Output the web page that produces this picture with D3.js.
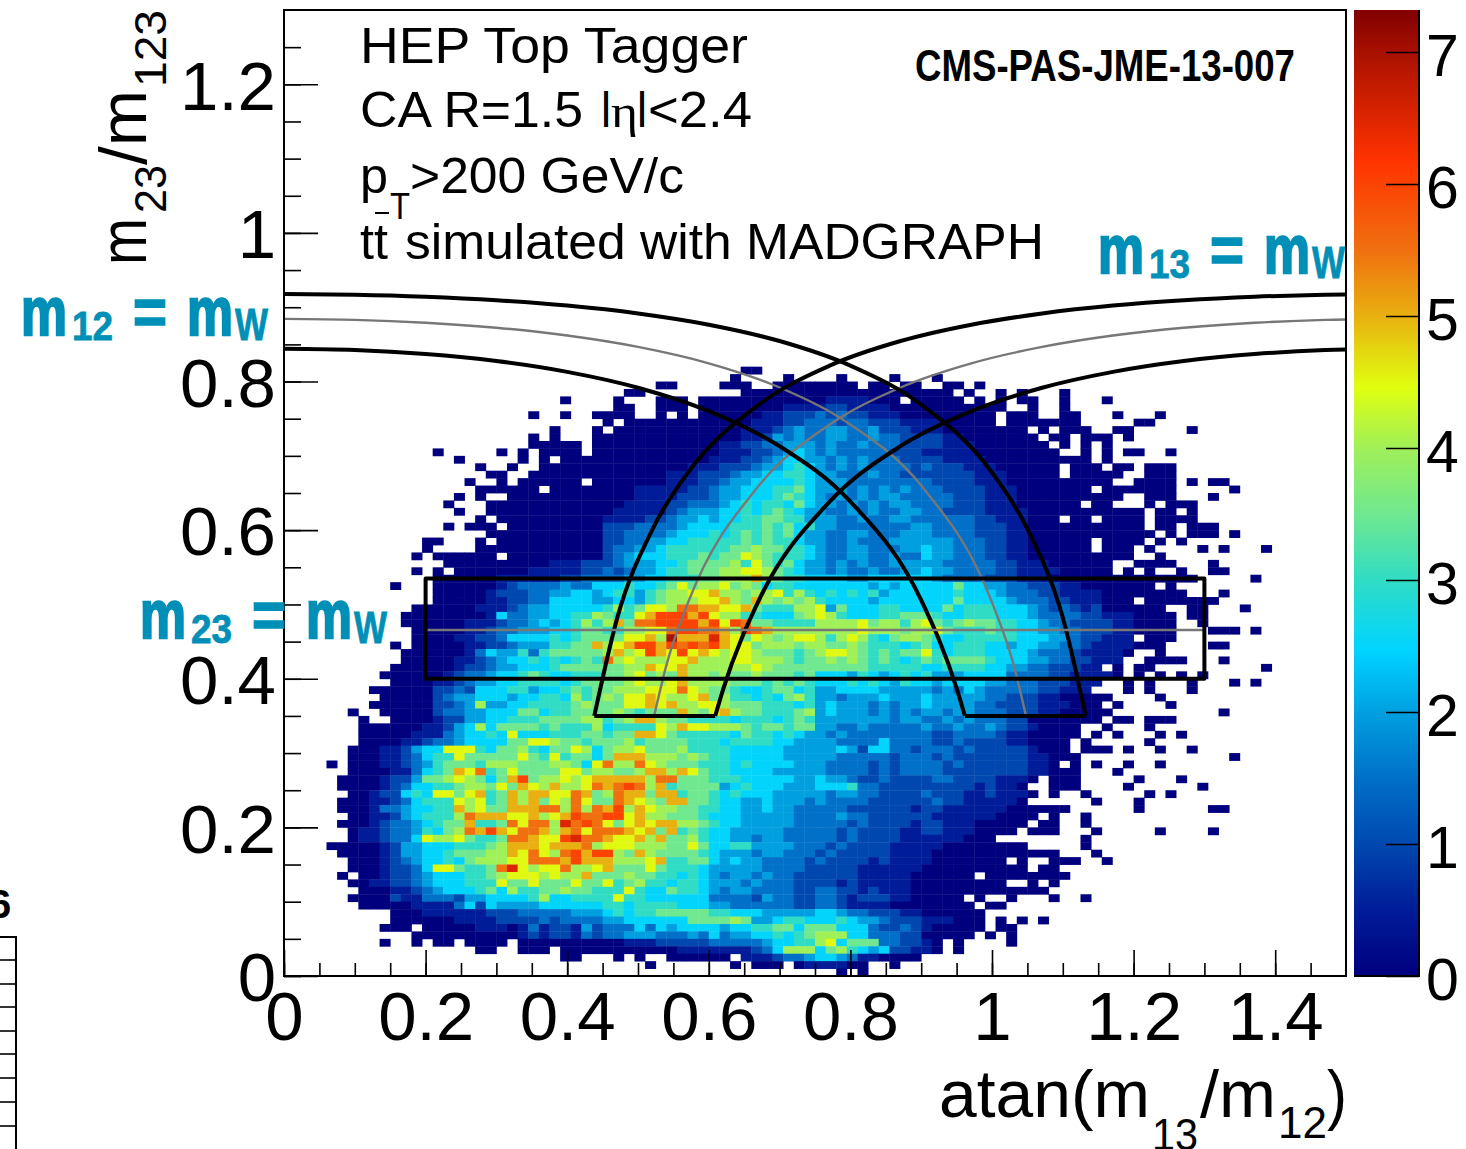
<!DOCTYPE html>
<html><head><meta charset="utf-8">
<script src="https://cdn.jsdelivr.net/npm/d3@7"></script>
<style>body{margin:0;background:#fff}svg{display:block}text{font-family:"Liberation Sans",Arial,sans-serif}</style>
</head><body><svg id="c" width="1466" height="1149"></svg>
<script>
// x bin width and y bin width of the histogram
const binWidthX = 0.015, binWidthY = 0.01;
// Each row: "row> startBin:values ...". One character per bin, value = parseInt(char,36)/2.
const heatRows = [
"81> 43:00",
"80> 42:0 47:0 52:0 57:0 61:0",
"79> 35:00 41:000 46:000 49:00000 55:00 58:00 62:00 65:0",
"78> 32:00 43:0000000 50:0000000000 60:000 64:0 67:0 69:0 73:0",
"77> 26:0 31:0 35:000 39:0000000000 49:001111000 59:00000 65:0 67:0 69:00 73:0 77:0",
"76> 31:00 35:000 39:0000000011 49:1122111100 59:00000000 67:0 70:0 73:0",
"75> 23:0 26:0 29:0000 35:0 37:0 39:0000001122 49:2323221110 59:00000000 68:00 70:0 73:00 78:0 82:0",
"74> 30:0 32:00000000 40:0000111223 50:3323322211 60:1100000 68:0000000 80:00",
"73> 25:0 29:0 31:000000000 40:0001112343 50:3443342221 60:1100000000 71:0 73:000 78:00 85:0",
"72> 23:0 25:0 29:00000000000 40:0001124343 50:3443343322 60:2211000000 70:0 72:00 75:000 79:0",
"71> 23:00000 29:00000000000 40:0112233444 50:3433433322 60:2211100000 70:00 73:0 75:0 77:0",
"70> 14:0 20:0 22:0 24:0000 29:00000000000 40:0111223454 50:3433333222 60:1111100000 70:000 75:0 77:0 79:00 83:0",
"69> 16:0 22:0 24:0 26:0000 30:0000000000 40:1112234554 50:4343433322 60:2211110000 70:000000 77:0",
"68> 18:0 21:0 24:000000 30:0000000011 40:1222344565 50:4343433332 60:3222111000 70:000 74:000 78:00 81:000",
"67> 19:00 23:0000000 30:0000001112 40:2234455665 50:4433343322 60:2222211100 70:000 74:00000 81:000",
"66> 17:0 20:0 22:000 25:000 29:00000001112 40:2344555565 50:4443333333 60:3222211100 70:00000000 80:0000 85:0 87:00",
"65> 18:000000 25:00000 30:0001111122 40:3445556675 50:4443434343 60:3322221110 70:000000 77:0000000 89:0",
"64> 16:0 18:0 21:000000000 30:0001111222 40:3445556765 50:4343434433 60:3332221110 70:000000000 81:000 87:0",
"63> 15:0 19:00000000000 30:0011112233 40:3456566575 50:4434343443 60:3332221110 70:00000 76:00 81:0 83:000",
"62> 16:0 19:00000000000 30:0111112344 40:4556567654 50:4334343344 60:3322221111 70:00000000000 82:00 85:0",
"61> 18:0 20:0000000000 30:1111223445 40:4556677664 50:4433433443 60:3333322111 70:000 74:00 77:0000 82:0000",
"60> 15:0 17:000 21:000000000 30:2223333455 40:5566676756 50:4433333334 60:4333322211 70:00000000000 82:00 85:000",
"59> 19:00000000000 30:2233334555 40:6567676754 50:4334433344 60:4333322211 70:000000000000 83:0 85:000 89:0",
"58> 13:00 18:0 20:0000000000 30:2233445566 40:6667676654 50:4334333444 60:4443332211 70:000000 77:0000 82:0 84:0",
"57> 13:0 18:000000000000 30:2334456666 40:6677877665 50:4334433344 60:5443332211 70:000000 77:000 81:0 86:0 88:0 92:0",
"56> 12:0 14:000000 21:000000000 30:2345556667 40:6779876665 50:4334433433 60:5443332211 70:0000000000 82:0",
"55> 15:000000 21:000011122 30:2344455677 40:7786976754 50:4343433444 60:4433333221 70:11000000 80:0000 87:0",
"54> 12:0 14:0 16:00000 21:001111122 30:3234456677 40:7889987654 50:4343343344 60:5443333221 70:11100000 79:0 81:0 84:0 87:00",
"53> 14:000000 20:1111112233 30:3344556667 40:7888a87665 50:5554455555 60:5433332221 70:1100000000 80:000 83:000 91:0",
"52> 10:0 14:000000 20:1233334335 30:5565567978 40:8978756655 50:5555545455 60:5557554433 70:2221100000 80:00 83:0",
"51> 14:000001 20:2223344554 30:5664678899 40:a887889686 50:5656564555 60:5556555433 70:3221111000 80:00000 88:0",
"50> 14:000001 20:1223355554 30:4554678889 40:9a87a87878 50:6555545555 60:5557555543 70:3322111000 81:000 84:0000",
"49> 12:00 14:000011 20:1234455555 30:6867998bba 40:a99a766688 50:9475556655 60:5575666555 70:4323212000 80:000 85:00 90:0",
"48> 11:000 14:000001 20:5334455668 30:7669acccac 40:9886655578 50:9865556677 60:7655666555 70:4333322111 80:0000 85:00",
"47> 11:000 14:000111 20:2334545686 30:8a7bbcccca 40:c9cb776666 50:8888978868 60:9767877665 70:5433222211 80:0000 86:0",
"46> 12:00 14:000112 20:3344455677 30:668899bccb 40:ba8cba8888 50:8888988878 60:8976667665 70:5443322211 80:0000 87:000 91:0",
"45> 12:00 14:001122 20:3555565677 30:7799a8eaaa 40:da97987899 50:8689865788 60:7655666665 70:5544322111 81:000",
"44> 10:0 12:00 14:000112 20:234446677a 30:89accacbcb 40:ca99788878 50:8778766656 60:7556665545 70:5443321111 80:000 87:00",
"43> 11:000 14:000135 20:4463677777 30:8a89ca9c9a 40:9899877767 50:8998767677 60:9656665555 70:4333211110 82:0",
"42> 11:000 14:001123 20:4556565676 30:b8988899a8 40:8899888767 50:7878767656 60:7677776555 70:443322111 81:000 84:0 88:0",
"41> 10:0000 14:001223 20:4455567777 30:7788a99a88 40:8888987777 50:7777766666 60:5566665544 70:3322211 78:0 80:00 92:0",
"40> 9:00000 14:012334 20:5567655666 30:7789787a88 40:7877877767 50:5554654565 60:6444555533 70:332211110 80:0 82:0 84:0 86:0",
"39> 10:0000 14:112344 20:5566665677 30:7789889a88 40:8877767676 50:5556565465 60:5455554433 70:3222111 79:0 81:0 85:0 89:0 91:0",
"38> 8:000000 14:223255 20:5664556767 30:7888999b98 40:7765567756 50:4455554444 60:4343543333 70:322111 79:0 81:0 85:0",
"37> 9:00000 14:234455 20:5455665867 30:8799a9889a 40:7866565786 50:4434445444 60:5444443322 70:21100000 82:0",
"36> 8:000000 14:223484 20:4556666787 30:7799a9a889 40:9877766656 50:4544434344 60:5444433222 70:2111000 78:0 83:0",
"35> 6:0 9:00000 14:233445 20:5577566777 30:7876777a87 40:9a87766678 50:4544434343 60:4434433322 70:21100000 88:0",
"34> 7:0 10:0000 14:122445 20:5666777788 30:678aa87766 40:6656665676 50:4444444344 60:3343433322 70:0000000 78:00 81:000",
"33> 7:0000001 14:124585 20:7777676668 30:5666698a99 40:8887677677 50:4433433333 60:4334334322 70:10000 77:0 81:0",
"32> 7:0000011 14:134556 20:5955566677 30:677aa97666 40:6657665654 50:4343333333 60:3223333211 70:00000 76:0 78:0 82:0 84:0",
"31> 7:0000112 14:334555 20:5779987767 30:7786777766 40:6566665544 50:4433335333 60:3223222211 70:0000 75:0 81:0",
"30> 6:00011245 14:599965 20:7786577985 30:7889777866 40:6655555444 50:4454255332 60:3332322222 70:1000 75:000 79:0 82:0 85:0",
"29> 6:00011235 14:669777 20:7797696775 30:7aaa888787 40:6655555444 50:4433333233 60:3232222222 70:11000 89:0",
"28> 4:0 6:00011234 14:677768 20:8877788759 30:b88b987776 40:6656555544 50:4333323233 60:3323222222 70:110 74:0 76:0 79:0 82:0",
"27> 6:00001135 14:67a9b6 20:7977779978 30:8778aa8a97 40:6655554444 50:4333323233 60:3322222222 70:11000 78:0",
"26> 5:0000122 12:47 14:789875 20:7ac788989a 30:aaaa8bb777 40:6665555544 50:5443223222 60:2332222111 70:0 72:000 80:0 84:0",
"25> 5:000012 11:355 14:667887 20:97a98a889b 30:abcb8a6777 40:7456555444 50:5556332222 60:2222212110 72:000 79:0 86:0",
"24> 6:001225 12:65 14:997 17:9a6 20:7a8aa99ba7 30:8baa7aa677 40:6565554444 50:4344332222 60:3222112111 70:0 72:0 75:0 81:0 83:0",
"23> 5:0001123 12:56 14:669896 20:7a8a798b97 30:7ba987aa77 40:6554454443 50:4333322222 60:2322111110 76:0 80:0",
"22> 5:00013345 13:5 14:66a897 20:7aaabb8b8b 30:ac8a988776 40:6554454433 50:3332222221 60:2211111100 70:0000 80:0 87:00",
"21> 6:0011245 13:6 14:668baa 20:a99a89acbb 30:cc9a887776 40:5554444433 50:3343322222 60:2111111000 70:0 72:0 75:0",
"20> 5:00012334 13:5 14:677a66 20:7b9bb8dbcb 30:979a9aa887 40:6554444433 50:3332322221 60:2211100000 71:00 75:0",
"19> 6:0112334 13:6 14:578bac 20:a9bba8ab9b 30:bba9a7a676 40:5544444333 50:3323222211 60:221110000 70:000 76:0 82:0 87:0",
"18> 6:0112335 13:9 14:889766 20:7bba99cdbb 30:a99a8a7786 40:5544344333 50:3323222211 60:1111000 75:0",
"17> 4:000001244 13:5 14:556667 20:8aaa9aaab8 30:9998887797 40:5566444433 50:3232222111 60:1100000000 75:0",
"16> 5:00001244 13:5 14:567778 20:8a9b98bcac 30:c87a877776 40:5444344333 50:2322222111 60:1000000000 70:000 76:0",
"15> 6:0001234 13:5 14:565788 20:899bbbacaa 30:a8889a6677 40:5454433332 50:3222212111 60:10000000 69:0 72:000 77:0",
"14> 6:0001223 13:5 14:997667 20:bd9899b889 30:a777976665 40:4444433332 50:2222111111 60:0000000000 71:00",
"13> 5:0 7:001223 13:4 14:555667 20:89998988a7 30:7787766565 40:4344343322 50:2222111110 60:00000 66:0000 70:0000",
"12> 6:0011223 13:4 14:555666 20:9779777977 30:9678665665 40:4443433322 50:2212111110 60:00000000 70:0 72:0",
"11> 7:000112 13:3 14:455567 20:5866778776 30:6696557665 40:4344333322 50:3322121110 60:0000000000 70:00",
"10> 6:0000211 13:3 14:332445 20:5556855666 30:6966555555 40:3333243322 50:3321222110 60:0000 65:0 68:0 72:0 75:0",
"9> 7:000001 13:1 14:113525 20:4444555555 30:6656666555 40:4433333322 50:3321111000 60:00000 66:00",
"8> 10:000 13:1 14:111112 20:2233333444 30:5656677777 40:6655544444 50:5543322211 60:000000",
"7> 10:0000 14:001111 20:2222323333 30:4455555577 40:7787445665 50:5565443222 60:111000 67:0 69:0 71:0",
"6> 9:000 13:0 14:000011 20:1013122142 30:3335354555 40:5455667757 50:7755532232 60:100000 67:00",
"5> 12:00 14:000000 20:0012122132 30:3344433343 40:5344556567 50:8885533322 60:00000 66:0 68:0",
"4> 9:0 12:0 14:00 17:0000 22:00000000 30:0011122222 40:3333345566 50:8957773322 60:10 63:0 68:0",
"3> 18:00 22:000 26:0000 30:0000000111 40:1111235888 50:5786545221 60:10 63:0",
"2> 26:00 31:0 33:0 36:00000 41:0 43:1112334 50:5543110000",
"1> 34:0 42:0 44:000 48:0111100 57:0",
"0> 52:0 54:0"
];

const xMajorTicks = [0,0.2,0.4,0.6,0.8,1,1.2,1.4];
const xMinorTicks = [0,0.05,0.1,0.15,0.2,0.25,0.3,0.35,0.4,0.45,0.5,0.55,0.6,0.65,0.7,0.75,0.8,0.85,0.9,0.95,1,1.05,1.1,1.15,1.2,1.25,1.3,1.35,1.4,1.45];
const yMajorTicks = [0,0.2,0.4,0.6,0.8,1,1.2];
const yMinorTicks = [0,0.05,0.1,0.15,0.2,0.25,0.3,0.35,0.4,0.45,0.5,0.55,0.6,0.65,0.7,0.75,0.8,0.85,0.9,0.95,1,1.05,1.1,1.15,1.2,1.25];
const zTicks = [0,1,2,3,4,5,6,7];

// Band boundaries (m12 = mW curves; the m13 curves are their mirror images about pi/4)
const upperX = [0,.1,.2,.3,.4,.5,.6,.7,.8,.9,1,1.05,1.1,1.1325];
const upperY = [.9177,.9168,.9141,.9094,.9022,.8916,.8765,.8545,.8214,.7690,.6776,.6018,.4823,.35];
const centerX = [0,.1,.2,.3,.4,.5,.6,.7,.8,.9,1,1.03,1.048];
const centerY = [.8843,.8830,.8791,.8724,.8619,.8466,.8245,.7920,.7421,.6600,.5029,.4207,.35];
const lowerX = [0,.1,.2,.3,.4,.5,.6,.7,.8,.9,.95,.9617];
const lowerY = [.8440,.8423,.8370,.8276,.8130,.7916,.7601,.7130,.6384,.5057,.3874,.35];
const mirrorAxis = 1.5708;
const boxX = [0.2,1.3], boxY = [0.4,0.535], boxMidY = 0.4657, floorY = 0.35;

// Palette stops
const zStops = [0,0.5,1,1.5,2,2.47,3,3.5,4,4.46,5,5.5,6.18,7,7.32];
const zColors = ["#00007f","#001c98","#0048b0","#0070c8","#00a0e0","#00d4ff","#30dcc4","#70e890","#a0f058","#e0ff10","#e8b010","#f07010","#ff3300","#a81000","#800000"];

const L = 284, R = 1346, T = 10, B = 976;
const x = d3.scaleLinear().domain([0,1.5]).range([L,R]);
const y = d3.scaleLinear().domain([0,1.3]).range([B,T]);
const z = d3.scaleLinear().domain(zStops).range(zColors).interpolate(d3.interpolateRgb);
const zPos = d3.scaleLinear().domain([0,7.318]).range([B,T]);

const cells = [];
heatRows.forEach(s => {
  const [rs, rest] = s.split("> ");
  const r = +rs;
  rest.split(" ").forEach(seg => {
    const [st, vals] = seg.split(":");
    [...vals].forEach((ch,i) => cells.push({c:+st+i, r, v:parseInt(ch,36)/2}));
  });
});

const svg = d3.select("#c");
svg.append("defs").append("clipPath").attr("id","fr").append("rect").attr("x",L).attr("y",T).attr("width",R-L).attr("height",B-T);

svg.append("g").selectAll("rect").data(cells).join("rect")
  .attr("x",d=>x(d.c*binWidthX)).attr("y",d=>y((d.r+1)*binWidthY))
  .attr("width",d=>x((d.c+1)*binWidthX)-x(d.c*binWidthX)+0.4)
  .attr("height",d=>y(d.r*binWidthY)-y((d.r+1)*binWidthY)+0.4)
  .attr("fill",d=>z(d.v));

// axes
function styleAxis(g){ g.select(".domain").remove(); g.selectAll("line").attr("stroke","#000").attr("stroke-width",1.6); }
svg.append("g").attr("transform",`translate(0,${B})`).call(d3.axisBottom(x).tickValues(xMinorTicks).tickSize(-13).tickFormat("")).call(styleAxis);
svg.append("g").attr("transform",`translate(${L},0)`).call(d3.axisLeft(y).tickValues(yMinorTicks).tickSize(-17).tickFormat("")).call(styleAxis);
const gx = svg.append("g").attr("transform",`translate(0,${B})`).call(d3.axisBottom(x).tickValues(xMajorTicks).tickSize(-26).tickPadding(15).tickFormat(d=>String(d))).call(styleAxis);
gx.selectAll("text").attr("font-size",69).attr("font-family",'"Liberation Sans"').attr("fill","#000");
const gy = svg.append("g").attr("transform",`translate(${L},0)`).call(d3.axisLeft(y).tickValues(yMajorTicks).tickSize(-34).tickPadding(8).tickFormat(d=>String(d))).call(styleAxis);
gy.selectAll("text").attr("font-size",69).attr("font-family",'"Liberation Sans"').attr("fill","#000").attr("dy","0.36em");

// lines
const line = d3.line().x(d=>x(d[0])).y(d=>y(d[1])).curve(d3.curveMonotoneX);
const plot = svg.append("g").attr("clip-path","url(#fr)").attr("fill","none").attr("stroke-linejoin","round");
const zipped = (a,b)=>a.map((v,i)=>[v,b[i]]);
const mirrored = p=>p.map(d=>[mirrorAxis-d[0],d[1]]).reverse();
const curves = [[upperX,upperY,"#000",4],[lowerX,lowerY,"#000",4],[centerX,centerY,"#777",2.4]];
curves.slice().reverse().forEach(([a,b,col,w])=>{
  const p = zipped(a,b);
  plot.append("path").attr("d",line(p)).attr("stroke",col).attr("stroke-width",w);
  plot.append("path").attr("d",line(mirrored(p))).attr("stroke",col).attr("stroke-width",w);
});
const seg = (x1,y1,x2,y2,col,w)=>plot.append("line").attr("x1",x(x1)).attr("y1",y(y1)).attr("x2",x(x2)).attr("y2",y(y2)).attr("stroke",col).attr("stroke-width",w);
seg(boxX[0],boxMidY,boxX[1],boxMidY,"#777",2.4);
plot.append("rect").attr("x",x(boxX[0])).attr("y",y(boxY[1])).attr("width",x(boxX[1])-x(boxX[0])).attr("height",y(boxY[0])-y(boxY[1])).attr("stroke","#000").attr("stroke-width",4);
const lowEnd = lowerX[lowerX.length-1], upEnd = upperX[upperX.length-1];
seg(lowEnd,floorY,upEnd,floorY,"#000",4);
seg(mirrorAxis-upEnd,floorY,mirrorAxis-lowEnd,floorY,"#000",4);

// frame
svg.append("rect").attr("x",L).attr("y",T).attr("width",R-L).attr("height",B-T).attr("fill","none").attr("stroke","#000").attr("stroke-width",2);

// colour bar
const barL = 1354, barR = 1419;
const zSteps = d3.range(0,966);
svg.append("g").selectAll("rect").data(zSteps).join("rect")
  .attr("x",barL).attr("width",barR-barL).attr("y",i=>T+i).attr("height",1.5)
  .attr("fill",i=>z(zPos.invert(T+i+0.5)));
const gz = svg.append("g").attr("transform",`translate(${barR},0)`).call(d3.axisRight(zPos).tickValues(zTicks).tickSize(-33).tickPadding(7).tickFormat(d=>String(d)));
gz.select(".domain").attr("stroke","#000").attr("stroke-width",2).attr("d",`M0,${T}V${B}H${barL-barR+0}`);
gz.selectAll("line").attr("stroke","#000").attr("stroke-width",1.6);
gz.selectAll("text").attr("font-size",59).attr("font-family",'"Liberation Sans"').attr("fill","#000").attr("dy","0.4em");

// text helpers
function put(txt,xp,yp,size,len,opt={}){
  const t = svg.append("text").attr("x",xp).attr("y",yp).attr("font-size",size).attr("fill",opt.fill||"#000").text(txt);
  if(len) t.attr("textLength",len).attr("lengthAdjust","spacingAndGlyphs");
  if(opt.weight) t.attr("font-weight",opt.weight);
  if(opt.stroke) t.attr("stroke",opt.fill).attr("stroke-width",opt.stroke);
  if(opt.family) t.style("font-family",opt.family);
  return t;
}
function putUp(txt,xp,yp,size,len){
  svg.append("text").attr("transform",`translate(${xp},${yp}) rotate(-90)`).attr("font-size",size).attr("textLength",len).attr("lengthAdjust","spacingAndGlyphs").text(txt);
}
// annotation block
put("HEP Top Tagger",360,63,50,388);
put("CA R=1.5",360,127,50,223);
put("l",601,127,50,10);
put("η",611,127,46,27,{family:'"Liberation Serif"'});
put("l",637,127,50,10);
put("<2.4",648,127,50,104);
put("p",360,193,50,28);
put("T",390,219,36,20);
put(">200 GeV/c",410,193,50,274);
put("tt",360,259,50,28);
svg.append("line").attr("x1",375).attr("x2",389).attr("y1",213).attr("y2",213).attr("stroke","#000").attr("stroke-width",2);
put("simulated with MADGRAPH",405,259,50,639);
put("CMS-PAS-JME-13-007",915,81,44,380,{weight:"bold"});

// band labels
const teal = "#008fb6";
function bandLabel(x0,base,sub){
  const o={fill:teal,weight:"bold"};
  put("m",x0,base,69,46,{...o,stroke:2.4});
  put(sub,x0+51,base+5,41,41,{...o,stroke:0.8});
  put("=",x0+112,base-1,64,34,{...o,stroke:1.6});
  put("m",x0+166,base,69,46,{...o,stroke:2.4});
  put("W",x0+214,base+5,45,33,{...o,stroke:0.8});
}
bandLabel(21,335,"12");
bandLabel(1098,273,"13");
bandLabel(140,638,"23");

// axis titles
put("atan(m",939,1117,67,211);
put("13",1152,1150,45,46);
put("/m",1200,1117,67,76);
put("12",1278,1138,45,49);
put(")",1327,1117,67,20);
putUp("m",146,265,67,47);
putUp("23",166,213,45,48);
putUp("/m",146,165,67,75);
putUp("123",166,87,45,77);

// fragment of a neighbouring panel at the lower left edge
const fragTicks = [960,984,1007,1031,1054,1078,1102,1126];
svg.append("path").attr("d","M0,937H16V1149").attr("fill","none").attr("stroke","#000").attr("stroke-width",2);
svg.append("g").selectAll("line").data(fragTicks).join("line").attr("x1",0).attr("x2",16).attr("y1",d=>d).attr("y2",d=>d).attr("stroke","#000").attr("stroke-width",1.6);
put("6",-11,918,40,0,{weight:"bold"});
</script></body></html>
